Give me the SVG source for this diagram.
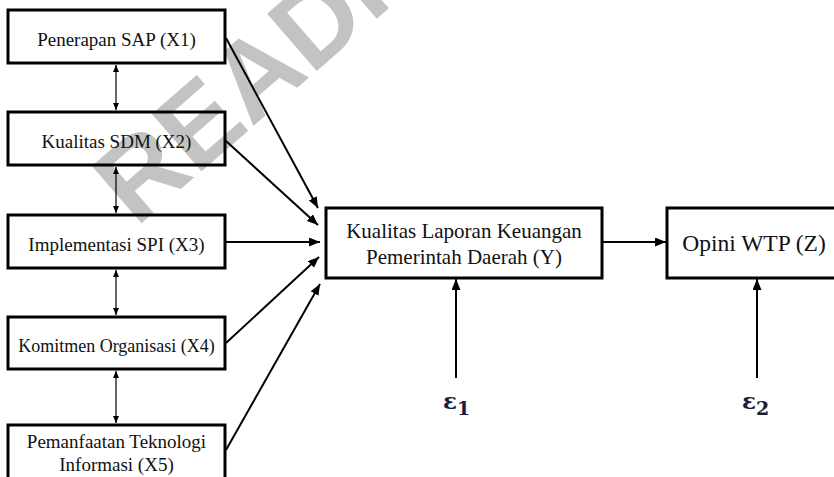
<svg xmlns="http://www.w3.org/2000/svg" width="834" height="477" viewBox="0 0 834 477">
<style>
.box{fill:none;stroke:#000;stroke-width:3}
.t{font-family:"Liberation Serif","Times New Roman",serif;fill:#111;text-anchor:middle}
.c{stroke:#000;stroke-width:2;fill:none}
.d{stroke:#000;stroke-width:1.2;fill:none}
.eps{font-family:"DejaVu Serif","Liberation Serif",serif;font-weight:bold;fill:#1c1c3a}
.wm{font-family:"Liberation Sans",Arial,sans-serif;font-weight:bold;fill:#c3c3c3}
</style>
<defs>
<marker id="ah" markerUnits="userSpaceOnUse" markerWidth="12" markerHeight="10" refX="11" refY="4.5" orient="auto">
<path d="M0,0 L11,4.5 L0,9 z" fill="#000"/>
</marker>
<marker id="sh" markerUnits="userSpaceOnUse" markerWidth="8" markerHeight="7" refX="7" refY="3" orient="auto-start-reverse">
<path d="M0,0 L7,3 L0,6 z" fill="#000"/>
</marker>
</defs>
<rect width="834" height="477" fill="#fff"/>
<text class="wm" x="136" y="228" font-size="110" transform="rotate(-41 136 228)">READI</text>
<g id="X1"><rect class="box" x="8" y="10" width="217" height="53"/><text class="t" x="116.5" y="46" font-size="19">Penerapan SAP (X1)</text></g>
<g id="X2"><rect class="box" x="8" y="112" width="217" height="53"/><text class="t" x="116.5" y="148" font-size="19">Kualitas SDM (X2)</text></g>
<g id="X3"><rect class="box" x="8" y="215" width="217" height="53"/><text class="t" x="116.5" y="251" font-size="19">Implementasi SPI (X3)</text></g>
<g id="X4"><rect class="box" x="8" y="317" width="217" height="52"/><text class="t" x="116.5" y="352" font-size="18">Komitmen Organisasi (X4)</text></g>
<g id="X5"><rect class="box" x="8" y="425" width="217" height="70"/><text class="t" x="116.5" y="448" font-size="19">Pemanfaatan Teknologi</text><text class="t" x="116.5" y="471" font-size="19">Informasi (X5)</text></g>
<g id="Y"><rect class="box" x="326" y="208" width="276" height="70"/><text class="t" x="464" y="238" font-size="21">Kualitas Laporan Keuangan</text><text class="t" x="464" y="264" font-size="21">Pemerintah Daerah (Y)</text></g>
<g id="Z"><rect class="box" x="667" y="208" width="200" height="70"/><text class="t" x="754" y="251" font-size="23.5">Opini WTP (Z)</text></g>
<g id="E1"><text class="eps" x="443" y="409" font-size="23">ε<tspan font-size="19" dy="6">1</tspan></text></g>
<g id="E2"><text class="eps" x="742" y="409" font-size="23">ε<tspan font-size="19" dy="6">2</tspan></text></g>
<g id="connectors">
<line class="c" x1="226" y1="38" x2="318" y2="208" marker-end="url(#ah)"/>
<line class="c" x1="226" y1="141" x2="318" y2="225" marker-end="url(#ah)"/>
<line class="c" x1="226" y1="242" x2="320" y2="242" marker-end="url(#ah)"/>
<line class="c" x1="226" y1="343" x2="319" y2="257" marker-end="url(#ah)"/>
<line class="c" x1="226" y1="450" x2="320" y2="284" marker-end="url(#ah)"/>
<line class="c" x1="602" y1="242" x2="666" y2="242" marker-end="url(#ah)"/>
<line class="c" x1="456" y1="378" x2="456" y2="279" marker-end="url(#ah)"/>
<line class="c" x1="757" y1="378" x2="757" y2="279" marker-end="url(#ah)"/>
<line class="d" x1="116" y1="65" x2="116" y2="110" marker-start="url(#sh)" marker-end="url(#sh)"/>
<line class="d" x1="116" y1="167" x2="116" y2="213" marker-start="url(#sh)" marker-end="url(#sh)"/>
<line class="d" x1="116" y1="270" x2="116" y2="315" marker-start="url(#sh)" marker-end="url(#sh)"/>
<line class="d" x1="116" y1="371" x2="116" y2="423" marker-start="url(#sh)" marker-end="url(#sh)"/>
</g>
</svg>
